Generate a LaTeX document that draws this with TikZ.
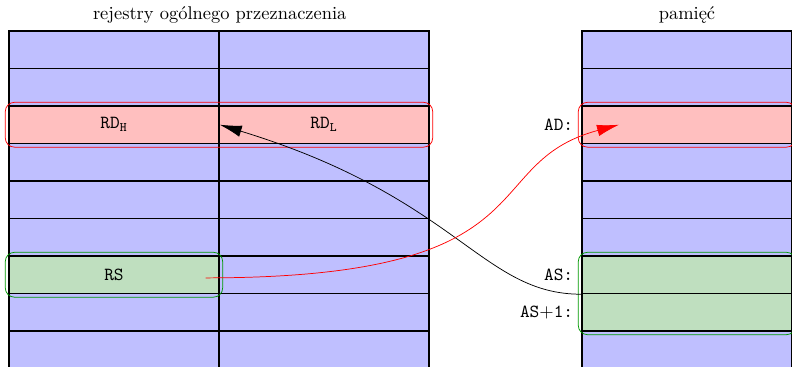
\documentclass[tikz,border=0pt]{standalone}
\usepackage{fontspec}
\usepackage{tikz}
\usetikzlibrary{arrows.meta,positioning,calc,fit}

\colorlet{regfill}{blue!25}
\colorlet{hifill}{red!25}
\colorlet{lofill}{green!50!black!25}

\begin{document}
\begin{tikzpicture}[
    cell/.style={
        rectangle, draw, thick,
        minimum width=4cm,
        minimum height=0.7143cm,
        inner sep=0pt
    },
    hibox/.style={
        rectangle, draw=red,
        rounded corners=5pt,
        inner sep=1.6pt
    },
    lobox/.style={
        rectangle, draw=green!60!black,
        rounded corners=5pt,
        inner sep=1.6pt
    },
    addr/.style={font=\ttfamily},
    arr/.style={-{Latex[length=4.2mm,width=2.2mm]}},
]

\useasboundingbox (-0.171,0.590) rectangle (14.914,-6.400);

% register file and memory cells
\foreach \i/\ca/\cb/\cm in {0/regfill/regfill/regfill,
                            1/regfill/regfill/regfill,
                            2/hifill/hifill/hifill,
                            3/regfill/regfill/regfill,
                            4/regfill/regfill/regfill,
                            5/regfill/regfill/regfill,
                            6/lofill/regfill/lofill,
                            7/regfill/regfill/lofill,
                            8/regfill/regfill/regfill} {
    \node[cell, fill=\ca] (r-\i-0) at (2, -0.35715-0.7143*\i) {};
    \node[cell, fill=\cb] (r-\i-1) at (6, -0.35715-0.7143*\i) {};
    \node[cell, fill=\cm] (m-\i) at (12.914, -0.35715-0.7143*\i) {};
}

% headings
\node[above] (regs) at (r-0-0.north east) {rejestry ogólnego przeznaczenia};
\node[above] (mem) at (m-0.north) {pamięć};

% register names
\node (rdh) at (r-2-0) {\texttt{RD$_{\mathtt{H}}$}};
\node (rdl) at (r-2-1) {\texttt{RD$_{\mathtt{L}}$}};
\node (rs) at (r-6-0) {\texttt{RS}};

% highlighted groups
\node[hibox, fit=(r-2-0)(r-2-1)] (rd) {};
\node[lobox, fit=(r-6-0)] (rsbox) {};
\node[hibox, fit=(m-2)] (adbox) {};
\node[lobox, fit=(m-6)(m-7)] (asbox) {};

% addresses
\node[addr, left=0.3mm of m-2] (ad) {AD:};
\node[addr, left=0.3mm of m-6] (as) {AS:};
\node[addr, left=0.3mm of m-7] (as1) {AS$+$1:};

\coordinate (rs-out) at ($(r-6-0.east)+(-0.27,-0.06)$);
\coordinate (ad-in) at ($(m-2.west)+(0.72,0)$);

% load and store
\draw[arr] (m-6.south west) .. controls +(-1.9,0) and +(4.55,-1.39) .. (r-2-0.east);
\draw[arr, red] (rs-out) .. controls +(6.67,0) and +(-2.76,-0.74) .. (ad-in);

\end{tikzpicture}
\end{document}
